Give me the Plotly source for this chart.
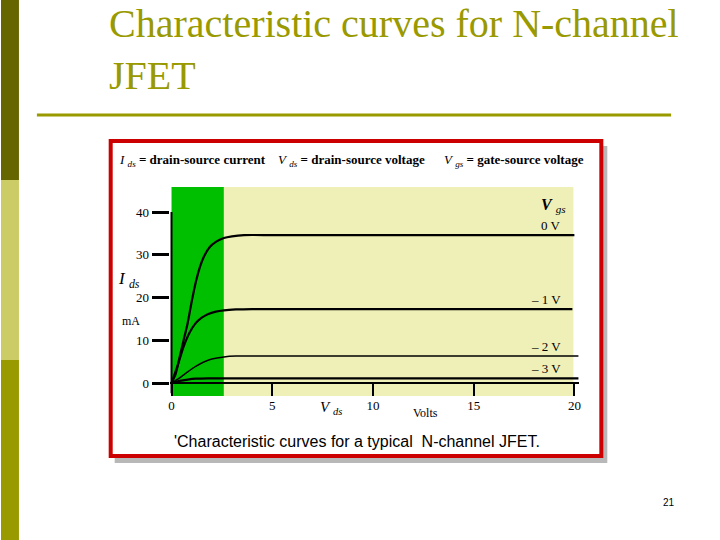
import plotly.graph_objects as go

# ---------------- data ----------------
vds_0v = [0, 0.2, 0.4, 0.6, 0.8, 1.0, 1.2, 1.4, 1.6, 1.9, 2.2, 2.6, 3.0, 3.6, 5, 20.0]
ids_0v = [0, 2, 6, 10, 14, 19, 23.5, 27, 29.5, 31.8, 33, 33.9, 34.3, 34.6, 34.6, 34.6]

vds_1v = [0, 0.3, 0.6, 0.9, 1.2, 1.5, 1.8, 2.2, 2.6, 3.2, 4.0, 19.9]
ids_1v = [0, 4, 8.5, 11.8, 14, 15.3, 16.1, 16.7, 17.0, 17.2, 17.3, 17.3]

vds_2v = [0, 0.4, 0.8, 1.2, 1.6, 2.0, 2.6, 3.2, 4.0, 20.2]
ids_2v = [0, 1.2, 2.6, 3.9, 4.9, 5.6, 6.1, 6.3, 6.3, 6.3]

vds_3v = [0, 0.4, 0.8, 1.2, 1.8, 20.2]
ids_3v = [0, 0.5, 0.8, 1.0, 1.1, 1.1]

curve_labels = ["0 V", "\u2013 1 V", "\u2013 2 V", "\u2013 3 V"]
x_ticks = [0, 5, 10, 15, 20]
y_ticks = [0, 10, 20, 30, 40]
ohmic_end = 2.6      # end of green region (V)
yellow_end = 19.95

W, H = 720, 540
SERIF = "Liberation Serif"
SANS = "Liberation Sans"
OLIVE = "#999900"

def px(x):
    return x / W

def py(y):
    return 1 - y / H

fig = go.Figure()

series = [(vds_0v, ids_0v, 2.2), (vds_1v, ids_1v, 2.2), (vds_2v, ids_2v, 1.5), (vds_3v, ids_3v, 2.2)]
for (xs, ys, lw), lab in zip(series, curve_labels):
    fig.add_trace(go.Scatter(x=xs, y=ys, mode="lines", line=dict(color="black", width=lw, shape="spline", smoothing=0.5),
                             name=lab, showlegend=False, hoverinfo="skip"))
    fig.add_annotation(x=19.45, y=ys[-1], xref="x", yref="y", text=lab, showarrow=False,
                       xanchor="right", yanchor="bottom", yshift=0,
                       font=dict(family=SERIF, size=13, color="black"))

shapes = []
# left slide bar
shapes.append(dict(type="rect", xref="paper", yref="paper", x0=0, x1=px(18), y0=py(0), y1=py(180),
                   fillcolor="#666600", line_width=0, layer="below"))
shapes.append(dict(type="rect", xref="paper", yref="paper", x0=0, x1=px(18), y0=py(180), y1=py(360),
                   fillcolor="#cccc66", line_width=0, layer="below"))
shapes.append(dict(type="rect", xref="paper", yref="paper", x0=0, x1=px(18), y0=py(360), y1=py(540),
                   fillcolor="#999900", line_width=0, layer="below"))
# title underline
shapes.append(dict(type="line", xref="paper", yref="paper", x0=px(36), x1=px(672), y0=py(115), y1=py(115),
                   line=dict(color=OLIVE, width=3), layer="below"))
# frame shadow and frame
shapes.append(dict(type="rect", xref="paper", yref="paper", x0=px(114), x1=px(608), y0=py(146), y1=py(463),
                   fillcolor="#b8b8b8", line_width=0, layer="below"))
shapes.append(dict(type="rect", xref="paper", yref="paper", x0=px(110), x1=px(602), y0=py(141), y1=py(456),
                   fillcolor="white", line=dict(color="#cc0000", width=4), layer="below"))
# regions
shapes.append(dict(type="rect", xref="x", yref="y", x0=0, x1=ohmic_end, y0=-3.04, y1=45.85,
                   fillcolor="#00bf00", line_width=0, layer="below"))
shapes.append(dict(type="rect", xref="x", yref="y", x0=ohmic_end, x1=yellow_end, y0=-3.04, y1=45.85,
                   fillcolor="#efefb8", line_width=0, layer="below"))
# y axis line
shapes.append(dict(type="line", xref="x", yref="y", x0=0, x1=0, y0=-2.4, y1=40,
                   line=dict(color="black", width=2), layer="above"))
fig.update_layout(shapes=shapes)

# title
fig.add_annotation(xref="paper", yref="paper", x=px(106), y=py(-1), xanchor="left", yanchor="top",
                   text="Characteristic curves for N-channel<br>JFET", showarrow=False, align="left",
                   font=dict(family=SERIF, size=40, color=OLIVE))

top_font = dict(family=SERIF, size=13, color="black")
fig.add_annotation(xref="paper", yref="paper", x=px(116), y=py(160), xanchor="left", yanchor="middle",
                   text="<i>I</i> <sub><i>ds</i></sub><b> = drain-source current</b>", showarrow=False, font=top_font)
fig.add_annotation(xref="paper", yref="paper", x=px(276), y=py(160), xanchor="left", yanchor="middle",
                   text="<i>V</i> <sub><i>ds</i></sub><b> = drain-source voltage</b>", showarrow=False, font=top_font)
fig.add_annotation(xref="paper", yref="paper", x=px(442), y=py(160), xanchor="left", yanchor="middle",
                   text="<i>V</i> <sub><i>gs</i></sub><b> = gate-source voltage</b>", showarrow=False, font=top_font)

fig.add_annotation(xref="paper", yref="paper", x=px(115), y=py(280), xanchor="left", yanchor="middle",
                   text="<i>I</i> <sub><i>ds</i></sub>", showarrow=False, font=dict(family=SERIF, size=17, color="black"))
fig.add_annotation(xref="paper", yref="paper", x=px(119), y=py(321), xanchor="left", yanchor="middle",
                   text="mA", showarrow=False, font=dict(family=SERIF, size=12, color="black"))
fig.add_annotation(xref="paper", yref="paper", x=px(318), y=py(408), xanchor="left", yanchor="middle",
                   text="<i>V</i> <sub><i>ds</i></sub>", showarrow=False, font=dict(family=SERIF, size=15, color="black"))
fig.add_annotation(xref="paper", yref="paper", x=px(411), y=py(413), xanchor="left", yanchor="middle",
                   text="Volts", showarrow=False, font=dict(family=SERIF, size=12, color="black"))
fig.add_annotation(xref="paper", yref="paper", x=px(539), y=py(205), xanchor="left", yanchor="middle",
                   text="<b><i>V</i></b> <sub><i>gs</i></sub>", showarrow=False, font=dict(family=SERIF, size=16, color="black"))

fig.add_annotation(xref="paper", yref="paper", x=px(357), y=py(441), xanchor="center", yanchor="middle",
                   text="'Characteristic curves for a typical  N-channel JFET.", showarrow=False,
                   font=dict(family=SANS, size=16, color="black"))
fig.add_annotation(xref="paper", yref="paper", x=px(670), y=py(502), xanchor="center", yanchor="middle",
                   text="21", showarrow=False, font=dict(family=SANS, size=10, color="black"))

# axes geometry: x=0 at px 171, 20.2 px/V; y=0 at px 383, 4.275 px/mA
x_lo, x_hi = -0.1, 20.25
y_lo, y_hi = -3.04, 45.85
fig.update_layout(
    width=W, height=H, margin=dict(l=0, r=0, t=0, b=0),
    paper_bgcolor="white", plot_bgcolor="rgba(0,0,0,0)",
    xaxis=dict(domain=[px(171 + x_lo * 20.2), px(171 + x_hi * 20.2)], range=[x_lo, x_hi],
               showgrid=False, zeroline=False, showline=False,
               tickvals=x_ticks, ticktext=[str(v) for v in x_ticks], ticks="inside", ticklen=12,
               tickwidth=2, tickcolor="black", tickfont=dict(family=SERIF, size=13, color="black")),
    yaxis=dict(domain=[py(383 - y_lo * 4.275), py(383 - y_hi * 4.275)], range=[y_lo, y_hi],
               showgrid=False, zeroline=True, zerolinecolor="black", zerolinewidth=2, showline=False,
               tickvals=y_ticks, ticktext=[str(v) for v in y_ticks], ticks="outside", ticklen=17,
               tickwidth=2.5, tickcolor="black", tickfont=dict(family=SERIF, size=13, color="black")),
)

fig.write_html("out.html", config={"displayModeBar": False},
               post_script="document.body.style.margin='0px';document.body.style.overflow='hidden';")
